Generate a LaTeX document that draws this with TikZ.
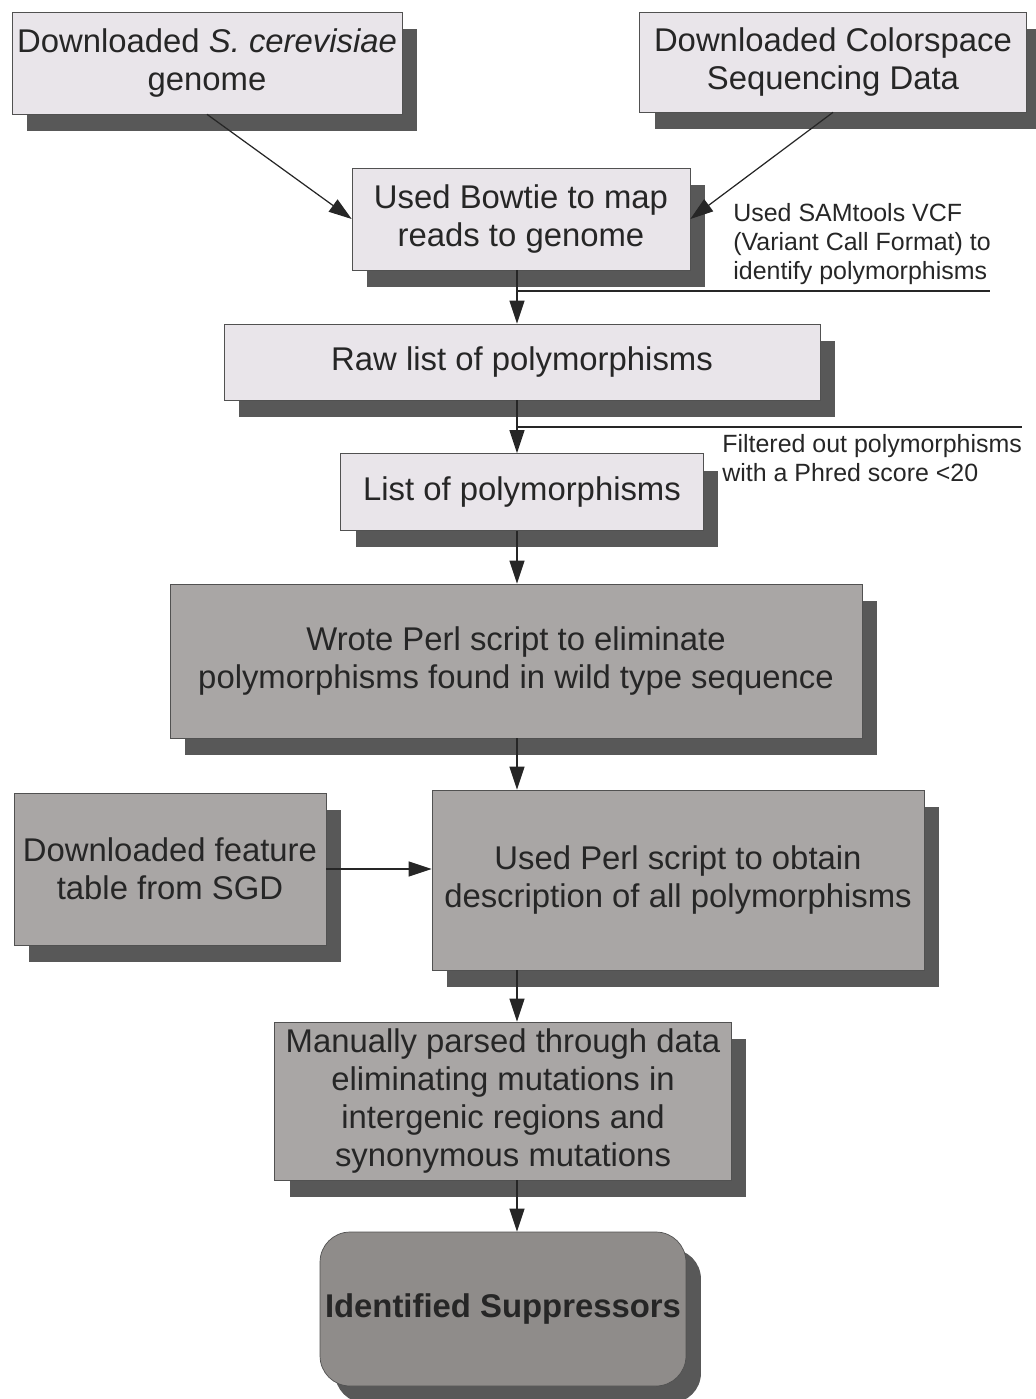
\documentclass[tikz,border=0pt]{standalone}
\usepackage{fontspec}
\setmainfont{Liberation Sans}
\usetikzlibrary{arrows.meta, shadows}

\definecolor{boxlight}{RGB}{233,229,234}
\definecolor{boxdark}{RGB}{169,166,165}
\definecolor{boxend}{RGB}{143,140,138}
\definecolor{shade}{RGB}{88,88,88}
\definecolor{ink}{RGB}{38,38,38}

\begin{document}
\begin{tikzpicture}[x=0.02cm, y=-0.02cm,
		stagebox/.style = {draw=ink!80, thin, align=center, inner sep=0pt, text=ink,
			font=\fontsize{18.7pt}{21.5pt}\selectfont,
			drop shadow={shadow xshift=0.3cm, shadow yshift=-0.34cm, fill=shade, opacity=1}},
		lightbox/.style = {stagebox, fill=boxlight},
		darkbox/.style = {stagebox, fill=boxdark},
		note/.style = {align=left, inner sep=0pt, text=ink, font=\fontsize{14.2pt}{16.4pt}\selectfont},
		flow/.style = {-{Triangle[length=0.46cm, width=0.3cm]}, ink, line width=0.7pt}]
		
		%page
		\useasboundingbox (0,0) rectangle (1035,1399);
		
		%main column of arrows
		\coordinate (col) at (517,0);
		
		%sources
		\node [lightbox, minimum width=7.8cm, minimum height=2.04cm] (genome) at (207,63)
			{Downloaded \textit{S. cerevisiae}\\genome};
		\node [lightbox, minimum width=7.74cm, minimum height=2.0cm] (colorspace) at (833,62)
			{Downloaded Colorspace\\Sequencing Data};
		
		%mapping and calling
		\node [lightbox, minimum width=6.76cm, minimum height=2.04cm] (bowtie) at (521,219)
			{Used Bowtie to map\\reads to genome};
		\node [lightbox, minimum width=11.92cm, minimum height=1.52cm] (raw) at (522,362)
			{Raw list of polymorphisms};
		\node [lightbox, minimum width=7.26cm, minimum height=1.54cm] (list) at (522,492)
			{List of polymorphisms};
		
		%perl scripts
		\node [darkbox, minimum width=13.84cm, minimum height=3.08cm] (wrote) at (516,661)
			{Wrote Perl script to eliminate\\polymorphisms found in wild type sequence};
		\node [darkbox, minimum width=6.24cm, minimum height=3.04cm] (feature) at (170,869)
			{Downloaded feature\\table from SGD};
		\node [darkbox, minimum width=9.84cm, minimum height=3.6cm] (usedperl) at (678,880)
			{Used Perl script to obtain\\description of all polymorphisms};
		\node [darkbox, minimum width=9.14cm, minimum height=3.16cm] (manual) at (503,1101)
			{Manually parsed through data\\eliminating mutations in\\intergenic regions and\\synonymous mutations};
		
		%result
		\node [stagebox, fill=boxend, rounded corners=0.6cm, minimum width=7.32cm, minimum height=3.08cm] (suppress) at (503,1309)
			{\bfseries Identified Suppressors};
		
		%notes
		\node [note, anchor=north west] (vcf) at (733,203)
			{Used SAMtools VCF\\(Variant Call Format) to\\identify polymorphisms};
		\node [note, anchor=north west] (phred) at (722,434)
			{Filtered out polymorphisms\\with a Phred score <20};
		\coordinate (vcfend) at (990,291);
		\coordinate (phredend) at (1022,427);
		
		%arrows
		\draw [flow] (genome.south) -- (bowtie.west);
		\draw [flow] (colorspace.south) -- (bowtie.east);
		\draw [flow] (bowtie.south -| col) -- (raw.north -| col);
		\draw [flow] (raw.south -| col) -- (list.north -| col);
		\draw [flow] (list.south -| col) -- (wrote.north -| col);
		\draw [flow] (wrote.south -| col) -- (usedperl.north -| col);
		\draw [flow] (feature.east) -- (feature.east -| usedperl.west);
		\draw [flow] (usedperl.south -| col) -- (manual.north -| col);
		\draw [flow] (manual.south -| col) -- (suppress.north -| col);
		
		%note rules
		\draw [ink, line width=0.7pt] (vcfend -| col) -- (vcfend);
		\draw [ink, line width=0.7pt] (phredend -| col) -- (phredend);
	\end{tikzpicture}
\end{document}
